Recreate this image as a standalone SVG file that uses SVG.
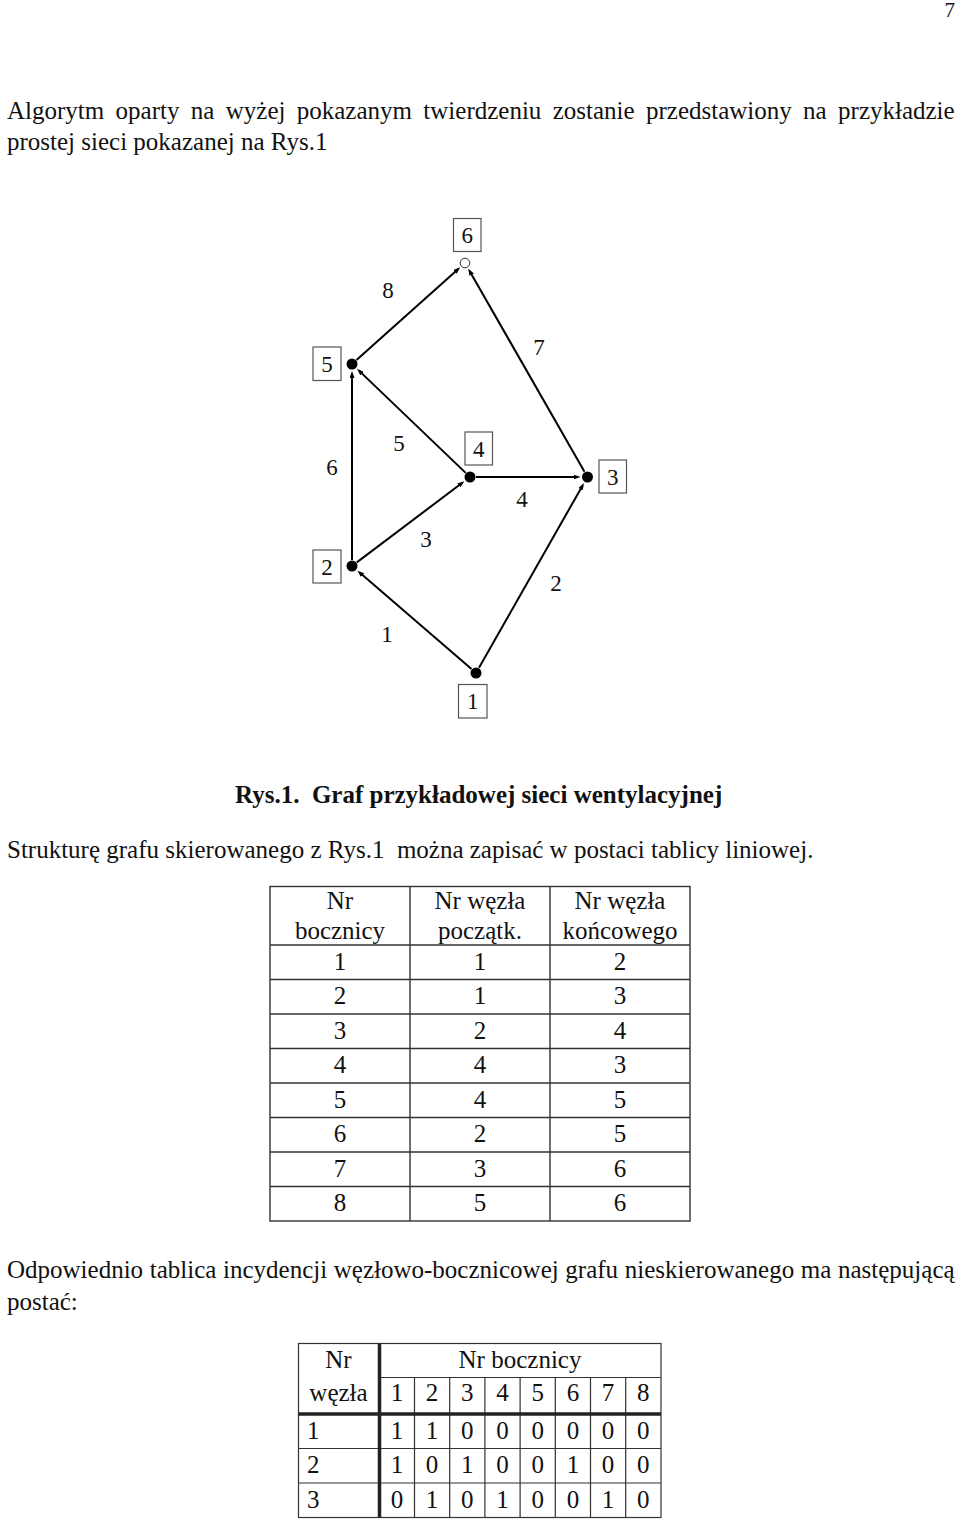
<svg xmlns="http://www.w3.org/2000/svg" width="960" height="1520" viewBox="0 0 960 1520">
<style>
text{font-family:"Liberation Serif","Times New Roman",serif;fill:#111;}
.body{font-size:25px;}
.cap{font-size:25px;font-weight:bold;}
.c{text-anchor:middle;}
.t{font-size:25px;}
.num{font-size:23px;text-anchor:middle;}
.box{fill:#fff;stroke:#555;stroke-width:1.2;}
.dot{fill:#000;}
.edge{stroke:#000;stroke-width:2;fill:none;marker-end:url(#arr);}
.grid{stroke:#333;stroke-width:1.4;fill:none;}
.thick{stroke:#222;stroke-width:4;fill:none;}
</style>
<defs>
<marker id="arr" markerUnits="userSpaceOnUse" viewBox="0 0 7 5" markerWidth="7" markerHeight="5" refX="4" refY="2.5" orient="auto">
<path d="M0,0 L7,2.5 L0,5 z" fill="#000"/>
</marker>
</defs>
<rect width="960" height="1520" fill="#fff"/>

<text x="955" y="17" style="font-size:21px" text-anchor="end">7</text>

<text class="body" x="7" y="119" word-spacing="5.1">Algorytm oparty na wyżej pokazanym twierdzeniu zostanie przedstawiony na przykładzie</text>
<text class="body" x="7" y="150">prostej sieci pokazanej na Rys.1</text>

<g id="connectors">
<line id="e1" class="edge" x1="471.5" y1="669.1" x2="359.6" y2="572.6"/>
<line id="e2" class="edge" x1="479" y1="667.8" x2="582.5" y2="485.7"/>
<line id="e3" class="edge" x1="356.8" y1="562.4" x2="462" y2="483"/>
<line id="e4" class="edge" x1="476" y1="477" x2="577.5" y2="477"/>
<line id="e5" class="edge" x1="465.7" y1="472.9" x2="359.2" y2="370.9"/>
<line id="e6" class="edge" x1="352" y1="560" x2="352" y2="374"/>
<line id="e7" class="edge" x1="584.5" y1="471.8" x2="469.7" y2="271.2"/>
<line id="e8" class="edge" x1="356.5" y1="360" x2="458" y2="269.3"/>
<text class="num" x="387" y="642">1</text>
<text class="num" x="556" y="591">2</text>
<text class="num" x="426" y="547">3</text>
<text class="num" x="522" y="507">4</text>
<text class="num" x="399" y="451">5</text>
<text class="num" x="332" y="475">6</text>
<text class="num" x="539" y="355">7</text>
<text class="num" x="388" y="298">8</text>
</g>

<g id="node1">
<circle class="dot" cx="476" cy="673" r="5.5"/>
<rect class="box" x="458.5" y="684.5" width="28.5" height="33.5"/>
<text class="num" x="472.7" y="709">1</text>
</g>
<g id="node2">
<circle class="dot" cx="352" cy="566" r="5.5"/>
<rect class="box" x="313" y="550" width="28" height="33"/>
<text class="num" x="327" y="574.5">2</text>
</g>
<g id="node3">
<circle class="dot" cx="587.5" cy="477" r="5.5"/>
<rect class="box" x="599" y="460" width="27.5" height="33"/>
<text class="num" x="612.7" y="484.5">3</text>
</g>
<g id="node4">
<circle class="dot" cx="470" cy="477" r="5.5"/>
<rect class="box" x="465" y="432" width="27.5" height="33"/>
<text class="num" x="478.7" y="456.5">4</text>
</g>
<g id="node5">
<circle class="dot" cx="352" cy="364" r="5.5"/>
<rect class="box" x="313" y="347" width="28" height="33.5"/>
<text class="num" x="327" y="371.5">5</text>
</g>
<g id="node6">
<circle cx="465" cy="263" r="4.8" fill="#fff" stroke="#333" stroke-width="1"/>
<rect class="box" x="453.5" y="218.5" width="27.5" height="33"/>
<text class="num" x="467.2" y="243">6</text>
</g>

<text class="cap" x="235" y="803" xml:space="preserve">Rys.1.  Graf przykładowej sieci wentylacyjnej</text>
<text class="body" x="7" y="858" xml:space="preserve">Strukturę grafu skierowanego z Rys.1  można zapisać w postaci tablicy liniowej.</text>

<g id="table1">
<rect class="grid" x="270" y="886.5" width="420" height="334.5"/>
<path class="grid" d="M410,886.5V1221M550,886.5V1221M270,945H690M270,979.5H690M270,1014H690M270,1048.5H690M270,1083H690M270,1117.5H690M270,1152H690M270,1186.5H690"/>
<g class="t c">
<text x="340" y="909">Nr</text><text x="340" y="939">bocznicy</text>
<text x="480" y="909">Nr węzła</text><text x="480" y="939">początk.</text>
<text x="620" y="909">Nr węzła</text><text x="620" y="939">końcowego</text>
<text x="340" y="969.5">1</text><text x="480" y="969.5">1</text><text x="620" y="969.5">2</text>
<text x="340" y="1004">2</text><text x="480" y="1004">1</text><text x="620" y="1004">3</text>
<text x="340" y="1038.5">3</text><text x="480" y="1038.5">2</text><text x="620" y="1038.5">4</text>
<text x="340" y="1073">4</text><text x="480" y="1073">4</text><text x="620" y="1073">3</text>
<text x="340" y="1107.5">5</text><text x="480" y="1107.5">4</text><text x="620" y="1107.5">5</text>
<text x="340" y="1142">6</text><text x="480" y="1142">2</text><text x="620" y="1142">5</text>
<text x="340" y="1176.5">7</text><text x="480" y="1176.5">3</text><text x="620" y="1176.5">6</text>
<text x="340" y="1211">8</text><text x="480" y="1211">5</text><text x="620" y="1211">6</text>
</g>
</g>

<text class="body" x="7" y="1278" word-spacing="0.4">Odpowiednio tablica incydencji węzłowo-bocznicowej grafu nieskierowanego ma następującą</text>
<text class="body" x="7" y="1310">postać:</text>

<g id="table2">
<rect class="grid" x="298.5" y="1343.5" width="362.5" height="174" style="stroke-width:1.2"/>
<path class="grid" style="stroke-width:1.2" d="M379.5,1377.5H661M298.5,1448.5H661M298.5,1483H661M414.5,1377.5V1517.5M449.7,1377.5V1517.5M484.9,1377.5V1517.5M520.1,1377.5V1517.5M555.3,1377.5V1517.5M590.5,1377.5V1517.5M625.7,1377.5V1517.5"/>
<path class="thick" d="M298.5,1414H661M379.5,1343.5V1517.5" style="stroke-width:3.5"/>
<g class="t c">
<text x="338.5" y="1368">Nr</text><text x="338.5" y="1401">węzła</text>
<text x="520" y="1368">Nr bocznicy</text>
<text x="396.9" y="1401">1</text><text x="432.1" y="1401">2</text><text x="467.3" y="1401">3</text><text x="502.5" y="1401">4</text><text x="537.7" y="1401">5</text><text x="572.9" y="1401">6</text><text x="608.1" y="1401">7</text><text x="643.3" y="1401">8</text>
<text x="396.9" y="1438.5">1</text><text x="432.1" y="1438.5">1</text><text x="467.3" y="1438.5">0</text><text x="502.5" y="1438.5">0</text><text x="537.7" y="1438.5">0</text><text x="572.9" y="1438.5">0</text><text x="608.1" y="1438.5">0</text><text x="643.3" y="1438.5">0</text>
<text x="396.9" y="1473">1</text><text x="432.1" y="1473">0</text><text x="467.3" y="1473">1</text><text x="502.5" y="1473">0</text><text x="537.7" y="1473">0</text><text x="572.9" y="1473">1</text><text x="608.1" y="1473">0</text><text x="643.3" y="1473">0</text>
<text x="396.9" y="1507.5">0</text><text x="432.1" y="1507.5">1</text><text x="467.3" y="1507.5">0</text><text x="502.5" y="1507.5">1</text><text x="537.7" y="1507.5">0</text><text x="572.9" y="1507.5">0</text><text x="608.1" y="1507.5">1</text><text x="643.3" y="1507.5">0</text>
</g>
<g class="t">
<text x="307" y="1438.5">1</text><text x="307" y="1473">2</text><text x="307" y="1507.5">3</text>
</g>
</g>
</svg>
